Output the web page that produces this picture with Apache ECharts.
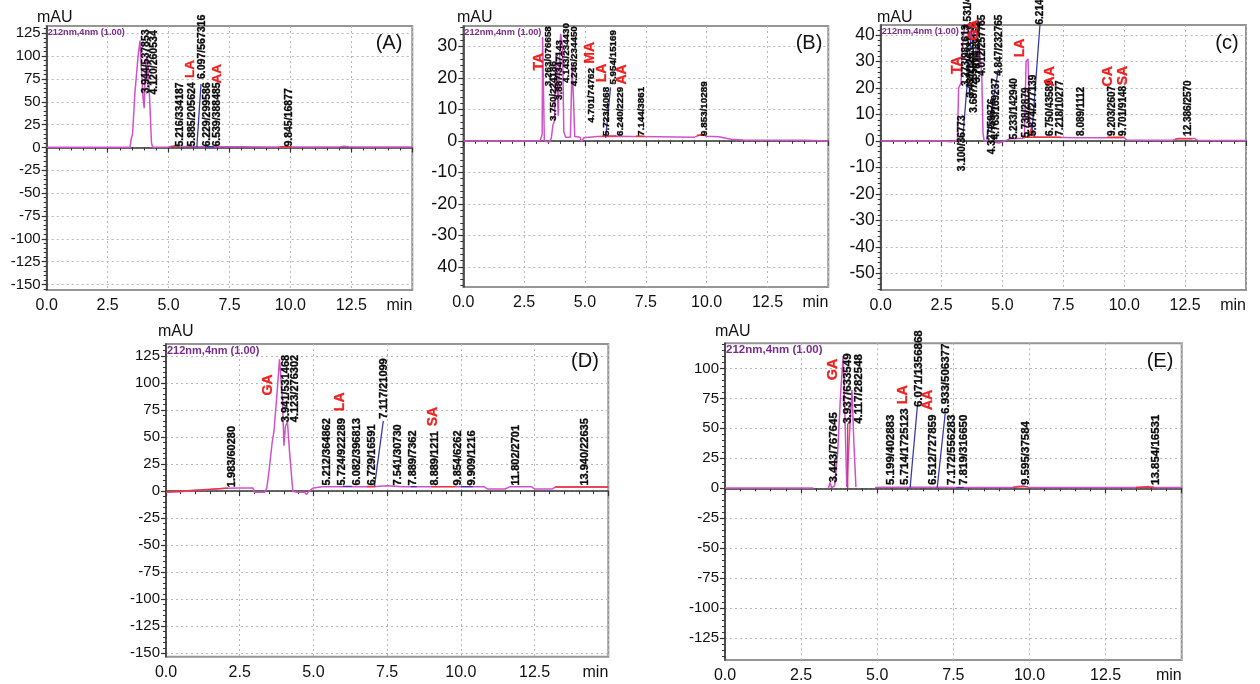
<!DOCTYPE html>
<html>
<head>
<meta charset="utf-8">
<script src="https://cdn.jsdelivr.net/npm/echarts@6/dist/echarts.min.js"></script>
<style>
  html, body { margin: 0; padding: 0; background: #fff; }
  #chart { width: 1260px; height: 684px; }
</style>
</head>
<body>
<div id="chart"></div>
<script>
// ---------------- DATA ----------------
const xTickLabels = ['0.0', '2.5', '5.0', '7.5', '10.0', '12.5', 'min'];

const yTicksA = [-150, -125, -100, -75, -50, -25, 0, 25, 50, 75, 100, 125];
const yLabelsA = ['-150', '-125', '-100', '-75', '-50', '-25', '0', '25', '50', '75', '100', '125'];
const yTicksB = [-40, -30, -20, -10, 0, 10, 20, 30];
const yLabelsB = ['40', '-30', '-20', '-10', '0', '10', '20', '30'];
const yTicksC = [-50, -40, -30, -20, -10, 0, 10, 20, 30, 40];
const yLabelsC = ['-50', '-40', '-30', '-20', '-10', '0', '10', '20', '30', '40'];
const yTicksD = [-150, -125, -100, -75, -50, -25, 0, 25, 50, 75, 100, 125];
const yLabelsD = ['-150', '-125', '-100', '-75', '-50', '-25', '0', '25', '50', '75', '100', '125'];
const yTicksE = [-125, -100, -75, -50, -25, 0, 25, 50, 75, 100];
const yLabelsE = ['-125', '-100', '-75', '-50', '-25', '0', '25', '50', '75', '100'];

// chromatogram traces [min, mAU]
const traceA = [[0,0.3],[1,0.3],[2,0.3],[3,0.3],[3.42,0.3],[3.47,10],[3.52,14],[3.62,60],[3.75,100],[3.83,117],[3.88,90],[3.95,55],[4.0,43],[4.04,80],[4.1,100],[4.15,90],[4.22,55],[4.3,5],[4.35,0.3],[5.0,0.5],[5.15,1.5],[5.3,2],[5.5,1.5],[6.0,1],[7,0.8],[8,0.7],[9,0.6],[10,0.5],[11,0.5],[12,0.5],[12.2,1.5],[12.4,0.8],[13,0.5],[15,0.5]];
const blueA = [[6.16,0.5],[6.33,69.5],[6.34,'-'],[6.5,0.8],[6.85,0.8]];
const redA = [[5.1,1],[5.45,1.8],[5.46,'-'],[9.55,0.8],[10.05,0.8]];

const traceB = [[0,0],[2.5,0],[3.15,0],[3.2,0.5],[3.24,2],[3.26,33],[3.31,33],[3.33,0],[3.45,-0.3],[3.55,-0.3],[3.62,1],[3.68,5],[3.75,6.5],[3.8,28],[3.85,20],[3.9,8],[3.95,25],[4.0,34],[4.08,30],[4.13,3],[4.2,1.2],[4.4,1.2],[4.47,24],[4.53,13],[4.58,1.4],[4.8,1.2],[4.85,-0.3],[4.95,1],[5.5,1.4],[6.0,1.5],[7,1.4],[8,1.3],[9.5,1.2],[9.8,2.1],[10.0,1.5],[10.5,1.3],[11,0.5],[11.5,0.3],[14,0.2],[15,0]];
const blueB = [[5.85,1],[6.05,17]];
const redB = [[5.7,1.5],[6.3,1.6],[6.31,'-'],[7.1,1.5],[7.45,1.5],[7.46,'-'],[9.6,1.8],[9.95,1.8]];

const traceC = [[0,0],[2.5,0],[2.9,-0.3],[3.05,0],[3.15,0.5],[3.2,20],[3.3,22],[3.35,35],[3.45,44],[3.55,44],[3.65,38],[3.75,44],[3.85,40],[3.95,30],[4.0,38],[4.08,32],[4.15,25],[4.2,3],[4.25,0],[4.6,-0.3],[4.85,-0.8],[5.0,-0.3],[5.3,0.8],[5.8,1],[5.9,1.2],[5.97,30],[6.05,31],[6.12,6],[6.2,5],[6.3,1.6],[6.5,1.4],[7,1.4],[8,1.2],[9,1.2],[10,1.2],[10.1,0.4],[11,0.3],[12,0.3],[12.2,0.9],[12.9,0.9],[13,0.3],[15,0.2]];
const blueC = [[3.37,1],[3.75,44],[3.76,'-'],[4.35,0.6],[4.83,27],[4.84,'-'],[6.2,1.9],[6.54,44]];
const redC = [[6.1,1.5],[6.2,5.5],[6.32,1.5],[6.33,'-'],[5.8,1.4],[7.4,1.4],[7.41,'-'],[9.3,1.4],[10.0,1.4],[10.01,'-'],[12.1,0.8],[12.8,0.8]];

const traceD = [[0,-1],[0.5,-0.5],[1,0.5],[1.5,1.5],[2,2.8],[2.5,3],[2.95,3],[3.0,-1],[3.35,-1],[3.42,3],[3.5,20],[3.6,45],[3.66,55],[3.75,85],[3.85,122],[3.95,85],[4.0,42],[4.05,60],[4.12,64],[4.18,40],[4.3,0],[4.45,-1],[4.7,-1],[4.77,-3],[4.85,0],[5.0,3],[5.3,4],[6,4],[7,4],[7.5,5],[8,4],[9,4],[10,4],[10.8,4],[10.9,2],[11.5,2],[11.65,4],[12.4,4],[12.5,2],[13.1,2],[13.2,3.8],[15,3.8]];
const blueD = [[7.07,4.5],[7.37,65],[7.38,'-'],[6.0,4.5],[6.3,4.5],[6.31,'-'],[8.3,4.2],[8.5,4.2],[8.51,'-'],[10.0,4.2],[10.4,4.2]];
const redD = [[0,-0.8],[2.1,2.8],[2.11,'-'],[6.8,4.3],[7.1,4.3],[7.11,'-'],[9.0,4.2],[9.8,4.2],[9.81,'-'],[13.2,3.9],[15,3.9]];

const traceE = [[0,0.3],[2.9,0.3],[3.1,'-'],[3.4,0.3],[3.45,4.8],[3.5,0.5],[3.6,2],[3.7,30],[3.8,80],[3.88,110],[3.94,60],[4.0,1],[4.06,1],[4.12,60],[4.17,82],[4.23,40],[4.3,1],[4.6,'-'],[4.93,0.6],[5.2,1],[6,1],[7,1],[8,0.6],[9.4,0.6],[9.6,1.5],[9.8,2],[10,0.6],[13.5,0.6],[13.9,1.5],[14.1,0.6],[15,0.6]];
const blueE = [[6.08,0.5],[6.32,69],[6.33,'-'],[6.97,0.5],[7.23,62],[7.24,'-'],[7.6,0.6],[7.85,0.6]];
const redE = [[4.03,0],[4.03,54],[4.04,'-'],[9.45,0.8],[9.95,1.4],[9.96,'-'],[13.5,0.7],[14.1,0.9]];

// peak annotations [min, mAU at text start, text]
const peaksA = [[4.06,59,'3.944/537853'],[4.40,58,'4.120/260534'],[5.48,1,'5.216/334187'],[5.95,1,'5.885/205624'],[6.39,75,'6.097/567316'],[6.57,1,'6.229/299586'],[6.98,1,'6.539/388485'],[9.96,1,'9.845/16877']];
const namesA = [[5.88,76,'LA'],[6.98,70,'AA']];

const peaksB = [[3.49,17.4,'3.263/076658'],[3.70,6.3,'3.750/224186'],[3.95,13,'3.887/347143'],[4.25,18.4,'4.143/234430'],[4.55,17.4,'4.246/234450'],[5.27,5.8,'4.701/74762'],[5.89,1.6,'5.723/4068'],[6.16,17.9,'5.954/15169'],[6.44,1.6,'6.240/2229'],[7.33,1.6,'7.144/3861'],[9.89,1.6,'9.853/10289']];
const namesB = [[3.12,22.4,'TA'],[5.23,24.5,'MA'],[5.71,18.6,'LA'],[6.53,17.9,'AA']];

const peaksC = [[3.34,-11.4,'3.100/36773'],[3.50,20.8,'3.273/981613'],[3.60,42,'3.531/40217'],[3.71,16.4,'3.437/126331'],[3.83,10.7,'3.687/255861'],[3.97,22,'3.787/189162'],[4.15,24.6,'4.012/257765'],[4.56,-5,'4.327/59876'],[4.76,0.6,'4.763/169237'],[4.87,24.6,'4.847/232765'],[5.47,0.6,'5.233/142940'],[5.99,1.3,'5.738/2879'],[6.27,1.9,'5.874/277139'],[6.54,44,'6.214/39826'],[6.95,1.9,'6.750/43589'],[7.36,1.9,'7.218/10277'],[8.25,1.9,'8.089/1112'],[9.51,1.9,'9.203/2607'],[9.96,1.9,'9.701/9148'],[12.63,1.9,'12.386/2570']];
const namesC = [[3.12,25.3,'TA'],[3.85,37.9,'GA'],[5.72,31.6,'LA'],[6.95,20.6,'AA'],[9.35,20.6,'CA'],[9.96,21,'SA']];

const peaksD = [[2.23,3.7,'1.983/60280'],[4.06,63.8,'3.941/531468'],[4.37,63.8,'4.123/276302'],[5.47,5.2,'5.212/364862'],[5.96,5.2,'5.724/922289'],[6.47,5.2,'6.082/396813'],[6.97,5.2,'6.729/16591'],[7.39,66.9,'7.117/21099'],[7.88,5.2,'7.541/30730'],[8.39,5.2,'7.889/7362'],[9.12,5.2,'8.889/1211'],[9.91,5.2,'9.854/6262'],[10.37,5.2,'9.909/1216'],[11.86,5.2,'11.802/2701'],[14.21,5.2,'13.940/22635']];
const namesD = [[3.47,88.5,'GA'],[5.92,74,'LA'],[9.07,60,'SA']];

const peaksE = [[3.58,4.8,'3.443/767645'],[4.05,53.8,'3.937/633549'],[4.38,53.8,'4.117/282548'],[5.44,2.8,'5.199/402883'],[5.91,2.8,'5.714/1725123'],[6.35,67.8,'6.071/1356868'],[6.81,2.8,'6.512/727859'],[7.25,62,'6.933/506377'],[7.45,2.8,'7.172/556283'],[7.85,2.8,'7.819/316650'],[9.88,2.8,'9.595/37584'],[14.16,2.8,'13.854/16531']];
const namesE = [[3.54,90,'GA'],[5.84,70,'LA'],[6.68,65,'AA']];

const panelTags = ['(A)', '(B)', '(c)', '(D)', '(E)'];
const legendText = '212nm,4nm (1.00)';
const unitText = 'mAU';

// ---------------- LAYOUT / STYLE ----------------
const FONT = "'Liberation Sans', Arial, sans-serif";
const panels = [
  { grid: {left: 46.7, top: 26, width: 365.6, height: 264}, yMin: -156, yMax: 133, ticks: yTicksA, labels: yLabelsA, minorStep: 5, yFont: 15,
    trace: traceA, blue: blueA, red: redA, peaks: peaksA, names: namesA, peakFont: 10.5, nameFont: 13.5, tagPos: [389, 43.5], unitPos: [37, 17.5], legFont: 9.2 },
  { grid: {left: 463.3, top: 26, width: 365, height: 261}, yMin: -46.4, yMax: 36.5, ticks: yTicksB, labels: yLabelsB, minorStep: 2, yFont: 18,
    trace: traceB, blue: blueB, red: redB, peaks: peaksB, names: namesB, peakFont: 9.8, nameFont: 14, tagPos: [809, 43.5], unitPos: [457, 17.5], legFont: 9.2 },
  { grid: {left: 880.7, top: 25, width: 365.3, height: 265}, yMin: -56.3, yMax: 43.8, ticks: yTicksC, labels: yLabelsC, minorStep: 2, yFont: 17.5,
    trace: traceC, blue: blueC, red: redC, peaks: peaksC, names: namesC, peakFont: 10, nameFont: 14, tagPos: [1227, 43.5], unitPos: [877, 17.5], legFont: 9.2 },
  { grid: {left: 166, top: 344, width: 442.3, height: 312.7}, yMin: -153.1, yMax: 136.1, ticks: yTicksD, labels: yLabelsD, minorStep: 5, yFont: 15,
    trace: traceD, blue: blueD, red: redD, peaks: peaksD, names: namesD, peakFont: 11, nameFont: 14, tagPos: [585, 361.7], unitPos: [158, 332], legFont: 11 },
  { grid: {left: 725, top: 343.3, width: 456.7, height: 316.7}, yMin: -143.1, yMax: 120.9, ticks: yTicksE, labels: yLabelsE, minorStep: 5, yFont: 15,
    trace: traceE, blue: blueE, red: redE, peaks: peaksE, names: namesE, peakFont: 11.5, nameFont: 14.5, tagPos: [1160, 361.7], unitPos: [715, 332], legFont: 11.5 }
];

function minorValues(min, max, step, majors) {
  const out = [];
  for (let v = Math.ceil(min / step) * step; v <= max; v += step) {
    if (majors.indexOf(v) < 0) out.push(v);
  }
  return out;
}

const grid = [], xAxis = [], yAxis = [], series = [], graphic = [];
const axisColor = '#333';
const gridLineStyle = { color: '#b8b8b8', width: 1, type: [2, 3] };

panels.forEach((p, gi) => {
  grid.push(Object.assign({ show: true, borderColor: '#959595', borderWidth: 2, backgroundColor: 'transparent' }, p.grid));
  xAxis.push({
    type: 'value', gridIndex: gi, position: 'bottom', min: 0, max: 15, interval: 2.5,
    axisLine: { show: true, lineStyle: { color: axisColor, width: 1.5 } },
    axisTick: { show: true, length: 5, lineStyle: { color: axisColor, width: 1.2 } },
    minorTick: { show: true, splitNumber: 5, length: 3, lineStyle: { color: axisColor, width: 1 } },
    splitLine: { show: true, lineStyle: gridLineStyle },
    axisLabel: { show: true, showMaxLabel: true, alignMaxLabel: 'right', margin: 8, fontSize: 16, fontFamily: FONT, color: '#111',
      formatter: v => xTickLabels[Math.round(v / 2.5)] }
  });
  yAxis.push({
    type: 'value', gridIndex: gi, position: 'left', min: p.yMin, max: p.yMax,
    axisLine: { show: true, onZero: false, lineStyle: { color: axisColor, width: 1.5 } },
    axisTick: { show: true, customValues: p.ticks, length: 5, lineStyle: { color: axisColor, width: 1.2 } },
    minorTick: { show: false },
    splitLine: { show: true, lineStyle: gridLineStyle },
    axisLabel: { show: true, customValues: p.ticks, margin: 6, fontSize: p.yFont, fontFamily: FONT, color: '#111',
      formatter: v => { const i = p.ticks.indexOf(v); return i >= 0 ? p.labels[i] : ''; } }
  });
  yAxis.push({
    type: 'value', gridIndex: gi, position: 'left', min: p.yMin, max: p.yMax,
    axisLine: { show: false }, axisLabel: { show: false }, splitLine: { show: false }, minorTick: { show: false },
    axisTick: { show: true, customValues: minorValues(p.yMin, p.yMax, p.minorStep, p.ticks), length: 3, lineStyle: { color: axisColor, width: 1 } }
  });
  const yi = gi * 2;
  series.push({ type: 'line', xAxisIndex: gi, yAxisIndex: yi, data: p.trace, symbol: 'none', connectNulls: false,
    lineStyle: { color: '#d052c9', width: 1.5 }, z: 3, silent: true });
  series.push({ type: 'line', xAxisIndex: gi, yAxisIndex: yi, data: p.red, symbol: 'none', connectNulls: false,
    lineStyle: { color: '#ef3434', width: 1.4 }, z: 4, silent: true });
  series.push({ type: 'line', xAxisIndex: gi, yAxisIndex: yi, data: p.blue, symbol: 'none', connectNulls: false,
    lineStyle: { color: '#3a3aae', width: 1.3 }, z: 4, silent: true });
  const textSeries = (items, color, size, strokeW) => ({
    type: 'custom', xAxisIndex: gi, yAxisIndex: yi, clip: false, silent: true, z: 6,
    data: items.map(d => [d[0], d[1]]),
    renderItem: (params, api) => {
      const pt = api.coord([api.value(0), api.value(1)]);
      return { type: 'text', x: pt[0], y: pt[1], rotation: Math.PI / 2,
        style: { text: items[params.dataIndex][2], fill: color, stroke: color, lineWidth: strokeW,
          fontSize: size, fontWeight: 'bold', fontFamily: FONT,
          align: 'left', verticalAlign: 'middle', textAlign: 'left', textVerticalAlign: 'middle' } };
    }
  });
  series.push(textSeries(p.peaks, '#0a0a0a', p.peakFont, 0.35));
  series.push(textSeries(p.names, '#ee2020', p.nameFont, 0.3));

  graphic.push({ type: 'text', x: p.unitPos[0], y: p.unitPos[1], z: 10,
    style: { text: unitText, fill: '#111', fontSize: 16, fontFamily: FONT, align: 'left', verticalAlign: 'middle', textAlign: 'left', textVerticalAlign: 'middle' } });
  graphic.push({ type: 'text', x: p.tagPos[0], y: p.tagPos[1], z: 10,
    style: { text: panelTags[gi], fill: '#111', fontSize: 20, fontFamily: FONT, align: 'center', verticalAlign: 'middle', textAlign: 'center', textVerticalAlign: 'middle' } });
  graphic.push({ type: 'text', x: p.grid.left + 1, y: p.grid.top + 6.5, z: 10,
    style: { text: legendText, fill: '#7a2d8c', fontSize: p.legFont, fontWeight: 'bold', fontFamily: FONT, align: 'left', verticalAlign: 'middle', textAlign: 'left', textVerticalAlign: 'middle' } });
});

const chart = echarts.init(document.getElementById('chart'), null, { renderer: 'canvas' });
chart.setOption({
  animation: false,
  backgroundColor: '#ffffff',
  grid, xAxis, yAxis, series, graphic
});
</script>
</body>
</html>
